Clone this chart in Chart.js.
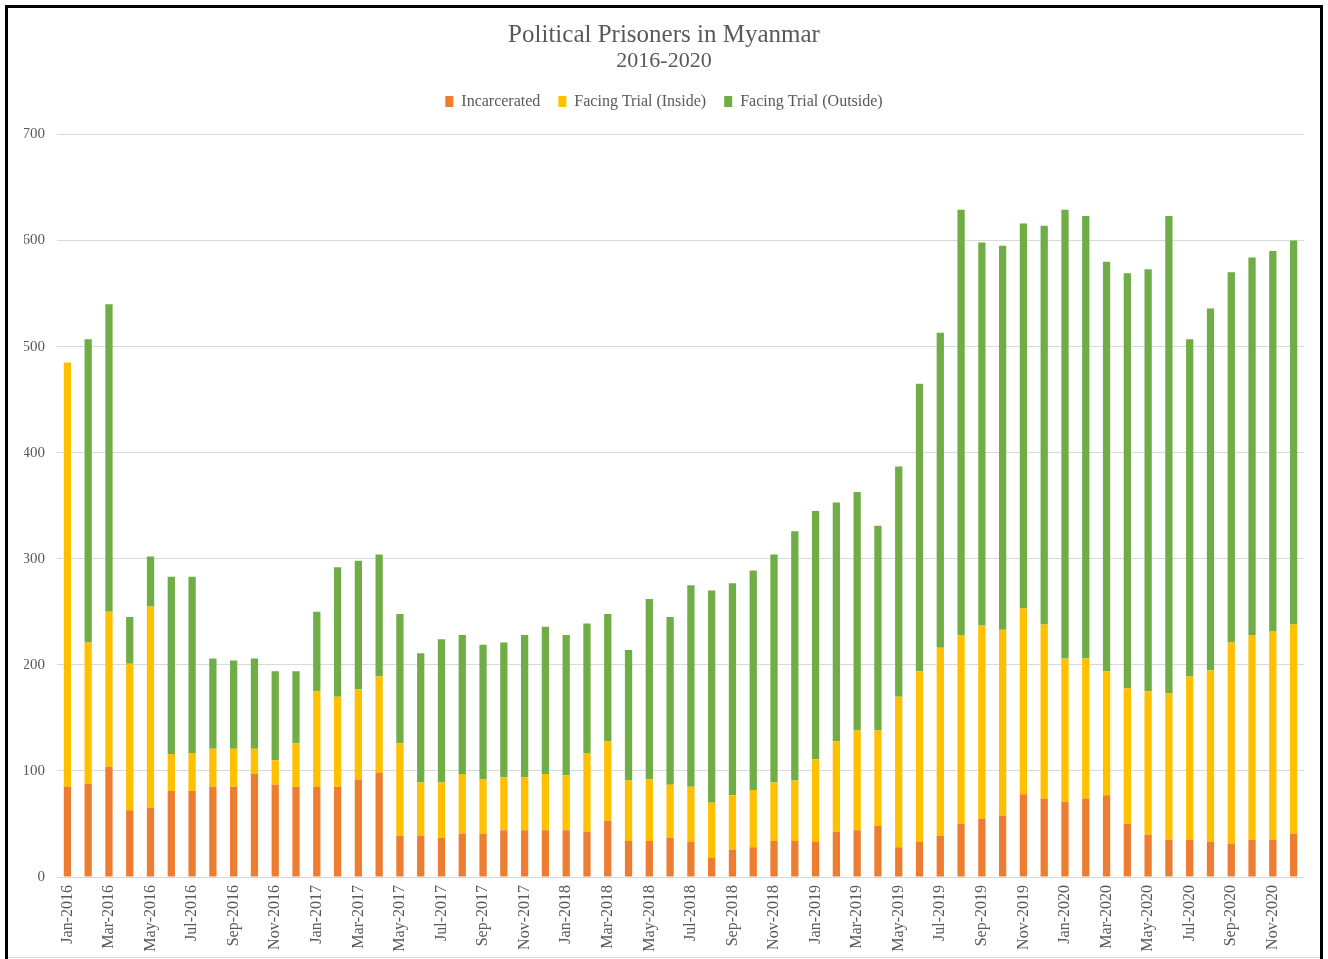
<!DOCTYPE html>
<html>
<head>
<meta charset="utf-8">
<script src="https://cdn.jsdelivr.net/npm/chart.js@4"></script>
<style>
  html, body { margin: 0; padding: 0; background: #fff; }
  #wrap { position: absolute; left: 0; top: 0; width: 1328px; height: 959px; }
</style>
</head>
<body>
<div id="wrap"><canvas id="myChart" width="1328" height="959"></canvas></div>
<script>
// 月ラベル
const months = [
  'Jan-2016','Feb-2016','Mar-2016','Apr-2016','May-2016','Jun-2016','Jul-2016','Aug-2016','Sep-2016','Oct-2016','Nov-2016','Dec-2016',
  'Jan-2017','Feb-2017','Mar-2017','Apr-2017','May-2017','Jun-2017','Jul-2017','Aug-2017','Sep-2017','Oct-2017','Nov-2017','Dec-2017',
  'Jan-2018','Feb-2018','Mar-2018','Apr-2018','May-2018','Jun-2018','Jul-2018','Aug-2018','Sep-2018','Oct-2018','Nov-2018','Dec-2018',
  'Jan-2019','Feb-2019','Mar-2019','Apr-2019','May-2019','Jun-2019','Jul-2019','Aug-2019','Sep-2019','Oct-2019','Nov-2019','Dec-2019',
  'Jan-2020','Feb-2020','Mar-2020','Apr-2020','May-2020','Jun-2020','Jul-2020','Aug-2020','Sep-2020','Oct-2020','Nov-2020','Dec-2020'
];

// 系列データ
const incarcerated = [
  85, 88, 104, 63, 65, 81, 81, 85, 85, 97, 87, 85,
  85, 85, 92, 98, 39, 39, 37, 41, 41, 44, 44, 44,
  44, 43, 53, 34, 34, 37, 33, 18, 26, 28, 34, 34,
  33, 43, 44, 48, 28, 33, 39, 50, 55, 58, 78, 74,
  71, 74, 77, 50, 40, 35, 35, 33, 31, 35, 35, 41
];
const trialInside = [
  400, 133, 146, 138, 190, 35, 36, 36, 36, 24, 23, 41,
  90, 85, 85, 91, 87, 50, 52, 56, 51, 50, 50, 53,
  52, 74, 75, 57, 58, 50, 52, 52, 51, 54, 55, 57,
  78, 85, 94, 90, 142, 161, 177, 178, 182, 175, 175, 164,
  135, 132, 117, 128, 135, 138, 154, 162, 190, 193, 197, 197
];
const trialOutside = [
  0, 286, 290, 44, 47, 167, 166, 85, 83, 85, 84, 68,
  75, 122, 121, 115, 122, 122, 135, 131, 127, 127, 134, 139,
  132, 122, 120, 123, 170, 158, 190, 200, 200, 207, 215, 235,
  234, 225, 225, 193, 217, 271, 297, 401, 361, 362, 363, 376,
  423, 417, 386, 391, 398, 450, 318, 341, 349, 356, 358, 362
];

const serif = "'Liberation Serif', 'Times New Roman', serif";
const textColor = '#595959';

// 外枠
const frame = {
  id: 'frame',
  beforeDraw(chart) {
    const { ctx } = chart;
    ctx.save();
    ctx.fillStyle = '#fff';
    ctx.fillRect(0, 0, chart.width, chart.height);
    ctx.strokeStyle = '#000';
    ctx.lineWidth = 3;
    ctx.beginPath();
    ctx.moveTo(6.5, 975);
    ctx.lineTo(6.5, 6.5);
    ctx.lineTo(1321.5, 6.5);
    ctx.lineTo(1321.5, 975);
    ctx.stroke();
    ctx.strokeStyle = '#d9d9d9';
    ctx.lineWidth = 1;
    ctx.beginPath();
    ctx.moveTo(8, 957.5);
    ctx.lineTo(1320, 957.5);
    ctx.stroke();
    ctx.restore();
  }
};

const data = {
  labels: months,
  datasets: [
    { label: 'Incarcerated', data: incarcerated, backgroundColor: '#ED7D31' },
    { label: 'Facing Trial (Inside)', data: trialInside, backgroundColor: '#FFC000' },
    { label: 'Facing Trial (Outside)', data: trialOutside, backgroundColor: '#70AD47' }
  ]
};

const config = {
  type: 'bar',
  data,
  options: {
    responsive: false,
    animation: false,
    datasets: {
      bar: { categoryPercentage: 1, barPercentage: 0.35 }
    },
    layout: {
      padding: { top: 10, left: 24, right: 24, bottom: 0 }
    },
    plugins: {
      title: {
        display: true,
        text: 'Political Prisoners in Myanmar',
        color: textColor,
        font: { family: serif, size: 25, weight: 'normal', lineHeight: 1.0 },
        padding: { top: 13, bottom: 0 }
      },
      subtitle: {
        display: true,
        text: '2016-2020',
        color: textColor,
        font: { family: serif, size: 22, weight: 'normal', lineHeight: 1.2 },
        padding: { top: 0, bottom: 1 }
      },
      legend: {
        position: 'top',
        labels: {
          color: textColor,
          font: { family: serif, size: 16 },
          boxWidth: 8,
          boxHeight: 11,
          padding: 18
        }
      },
      tooltip: { enabled: false }
    },
    scales: {
      x: {
        stacked: true,
        grid: { display: false, drawTicks: false },
        border: { display: false },
        afterFit(scale) { scale.height = 82; },
        ticks: {
          color: textColor,
          font: { family: serif, size: 16 },
          autoSkip: false,
          maxRotation: 90,
          minRotation: 90,
          padding: 8,
          callback(value, index) {
            return index % 2 === 0 ? months[index] : '';
          }
        }
      },
      // 凡例とプロットの間の余白
      gap: {
        type: 'category',
        position: 'top',
        grid: { display: false, drawTicks: false },
        border: { display: false },
        ticks: { display: false },
        afterFit(scale) { scale.height = 15; }
      },
      y: {
        stacked: true,
        min: 0,
        max: 700,
        grid: { color: '#d9d9d9', drawTicks: false },
        border: { display: false },
        afterFit(scale) { scale.width = 33; },
        ticks: {
          stepSize: 100,
          color: textColor,
          font: { family: serif, size: 15 },
          padding: 12
        }
      }
    }
  },
  plugins: [frame]
};

const myChart = new Chart(document.getElementById('myChart'), config);
</script>
</body>
</html>
